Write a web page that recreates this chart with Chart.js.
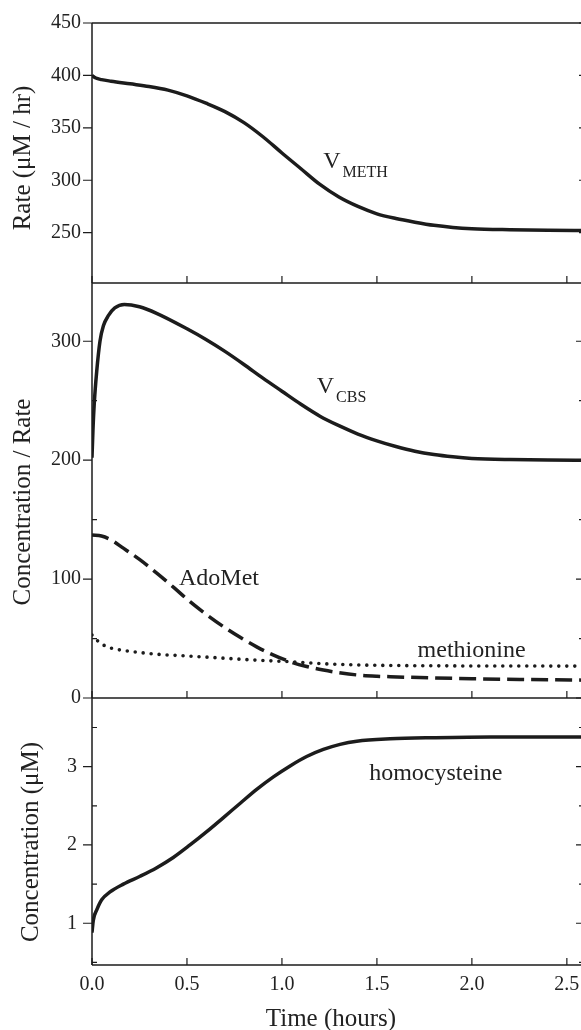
<!DOCTYPE html>
<html>
<head>
<meta charset="utf-8">
<script src="https://cdn.jsdelivr.net/npm/chart.js@4/dist/chart.umd.min.js"></script>
<style>
  html, body { margin: 0; padding: 0; background: #fff; overflow: hidden; }
  #wrap { position: relative; width: 581px; height: 1030px; overflow: hidden; }
  #wrap canvas { position: absolute; left: 0; top: 0; }
</style>
</head>
<body>
<div id="wrap">
  <canvas id="top" width="600" height="1040"></canvas>
  <canvas id="mid" width="600" height="1040"></canvas>
  <canvas id="bot" width="600" height="1040"></canvas>
</div>
<script>
// time axis (hours)
const xTicks = [0, 0.5, 1, 1.5, 2, 2.5];
const xMax = 2.585;

// top panel: V_METH (uM/hr)
const methTicks = [250, 300, 350, 400, 450];
const tMeth = [0, 0.02, 0.05, 0.1, 0.2, 0.3, 0.4, 0.5, 0.6, 0.7, 0.8, 0.9, 1.0, 1.1, 1.2, 1.3, 1.4, 1.5, 1.6, 1.7, 1.8, 1.9, 2.0, 2.2, 2.4, 2.6];
const vMeth = [400, 397.5, 396, 394.5, 392, 389.5, 386, 380.5, 373.5, 365.5, 355, 341.5, 326, 311, 296, 284, 275, 268, 263.5, 260, 257, 255, 253.8, 252.8, 252.2, 252];

// middle panel: V_CBS, AdoMet, methionine
const midTicks = [0, 100, 200, 300];
const midMinor = [50, 150, 250];
const tCbs = [0, 0.005, 0.012, 0.025, 0.042, 0.06, 0.086, 0.12, 0.17, 0.25, 0.34, 0.5, 0.6, 0.7, 0.8, 0.9, 1.0, 1.1, 1.2, 1.3, 1.4, 1.5, 1.6, 1.7, 1.8, 1.9, 2.0, 2.2, 2.4, 2.6];
const vCbs = [202, 225, 248, 275, 300, 313, 321.5, 328, 331, 329, 323.5, 310.5, 301.5, 291.5, 280.5, 269, 258, 247, 237, 229, 222, 216.3, 211.5, 207.5, 204.7, 202.8, 201.5, 200.5, 200.1, 200];
const tAdo = [0, 0.05, 0.1, 0.165, 0.25, 0.341, 0.43, 0.516, 0.6, 0.692, 0.78, 0.867, 0.95, 1.043, 1.13, 1.218, 1.3, 1.394, 1.5, 1.57, 1.8, 2.0, 2.3, 2.6];
const adoMet = [137, 136.2, 133, 126, 116.5, 105, 93, 81, 70.5, 60, 51, 43, 36.5, 30.5, 26.5, 23.5, 21.3, 19.4, 18.3, 17.9, 16.9, 16.2, 15.5, 15];
const tMet = [0, 0.02, 0.05, 0.1, 0.165, 0.25, 0.341, 0.516, 0.692, 0.867, 1.043, 1.218, 1.394, 1.6, 1.9, 2.2, 2.6];
const methionine = [53, 49.5, 45.5, 42, 40, 38.3, 36.8, 35.2, 33.5, 31.8, 30.5, 28.8, 27.8, 27.3, 27, 26.9, 26.8];

// bottom panel: homocysteine (uM)
const hcyTicks = [1, 2, 3];
const hcyMinor = [0.5, 1.5, 2.5, 3.5];
const tHcy = [0, 0.007, 0.025, 0.051, 0.095, 0.165, 0.253, 0.341, 0.428, 0.516, 0.604, 0.692, 0.779, 0.867, 0.955, 1.043, 1.13, 1.218, 1.306, 1.394, 1.57, 1.8, 2.1, 2.6];
const homocysteine = [0.88, 1.04, 1.17, 1.3, 1.4, 1.5, 1.6, 1.71, 1.84, 2.0, 2.17, 2.35, 2.53, 2.71, 2.87, 3.01, 3.13, 3.22, 3.285, 3.325, 3.355, 3.37, 3.38, 3.38];

const INK = '#1c1c1c';
const TXT = '#222';
const SERIF = '"Liberation Serif", "DejaVu Serif", serif';

function pts(ts, vs) {
  return ts.map((t, i) => ({ x: t, y: vs[i] }));
}

function line(data, extra) {
  return Object.assign({
    data: data,
    borderColor: INK,
    borderWidth: 3.5,
    pointRadius: 0,
    fill: false,
    cubicInterpolationMode: 'monotone'
  }, extra || {});
}

// box, inward x ticks on the bottom edge, y ticks on both sides
const frame = {
  id: 'frame',
  beforeDatasetsDraw(chart, args, o) {
    const { ctx, chartArea: a, scales: { x, y } } = chart;
    ctx.save();
    ctx.strokeStyle = INK;
    ctx.lineWidth = 1.5;
    ctx.beginPath();
    if (o.top) { ctx.moveTo(a.left, a.top); ctx.lineTo(a.right, a.top); }
    ctx.moveTo(a.left, a.top); ctx.lineTo(a.left, a.bottom);
    ctx.moveTo(a.left, a.bottom); ctx.lineTo(a.right, a.bottom);
    ctx.moveTo(a.right, a.top); ctx.lineTo(a.right, a.bottom);
    ctx.stroke();

    ctx.lineWidth = 1.2;
    ctx.beginPath();
    xTicks.forEach(v => {
      const px = x.getPixelForValue(v);
      ctx.moveTo(px, a.bottom); ctx.lineTo(px, a.bottom - 7);
    });
    (o.major || []).forEach(v => {
      const py = y.getPixelForValue(v);
      ctx.moveTo(a.left - 9, py); ctx.lineTo(a.left, py);
      ctx.moveTo(a.right, py); ctx.lineTo(a.right - (o.rightLen || 7), py);
    });
    (o.minor || []).forEach(v => {
      const py = y.getPixelForValue(v);
      ctx.moveTo(a.left, py); ctx.lineTo(a.left + 5, py);
      ctx.moveTo(a.right, py); ctx.lineTo(a.right - 4, py);
    });
    ctx.stroke();
    ctx.restore();
  }
};

// curve labels (placed in data units) and axis titles
const notes = {
  id: 'notes',
  afterDatasetsDraw(chart, args, o) {
    const { ctx, scales: { x, y } } = chart;
    ctx.save();
    ctx.fillStyle = TXT;
    ctx.textBaseline = 'alphabetic';
    ctx.textAlign = 'left';
    (o.labels || []).forEach(n => {
      const px = x.getPixelForValue(n.x);
      const py = y.getPixelForValue(n.y);
      ctx.font = '24px ' + SERIF;
      ctx.fillText(n.text, px, py);
      if (n.sub) {
        const w = ctx.measureText(n.text).width;
        ctx.font = '16px ' + SERIF;
        ctx.fillText(n.sub, px + w + 2, py + 9);
      }
    });
    ctx.font = '25px ' + SERIF;
    ctx.textAlign = 'center';
    ctx.textBaseline = 'middle';
    (o.titles || []).forEach(t => {
      ctx.save();
      ctx.translate(t.cx, t.cy);
      if (t.vertical) ctx.rotate(-Math.PI / 2);
      ctx.fillText(t.text, 0, 0);
      ctx.restore();
    });
    ctx.restore();
  }
};

function yScale(min, max, ticks, pad) {
  return {
    type: 'linear',
    min: min,
    max: max,
    grid: { display: false, drawTicks: false },
    border: { display: false },
    afterBuildTicks: s => { s.ticks = ticks.map(v => ({ value: v })); },
    afterFit: s => { s.width = 92; },
    ticks: { autoSkip: false, padding: pad, color: TXT, font: { family: SERIF, size: 20 } }
  };
}

function xScale(show) {
  const s = {
    type: 'linear',
    display: show,
    min: 0,
    max: xMax,
    grid: { display: false, drawTicks: false },
    border: { display: false },
    afterBuildTicks: s => { s.ticks = xTicks.map(v => ({ value: v })); },
    ticks: {
      autoSkip: false, maxRotation: 0, padding: 8, color: TXT,
      font: { family: SERIF, size: 20 },
      callback: v => Number(v).toFixed(1)
    }
  };
  if (show) s.afterFit = sc => { sc.height = 75; };
  return s;
}

function panel(id, datasets, padding, x, y, frameOpts, noteOpts) {
  return new Chart(document.getElementById(id), {
    type: 'line',
    data: { datasets: datasets },
    options: {
      responsive: false,
      animation: false,
      layout: { padding: padding },
      scales: { x: x, y: y },
      plugins: {
        legend: { display: false },
        tooltip: { enabled: false },
        frame: frameOpts,
        notes: noteOpts
      }
    },
    plugins: [frame, notes]
  });
}

panel('top',
  [line(pts(tMeth, vMeth))],
  { top: 19, right: 17, bottom: 757, left: 0 },
  xScale(false),
  yScale(202, 450, methTicks, 11),
  { top: true, major: methTicks, rightLen: 4 },
  {
    labels: [{ text: 'V', sub: 'METH', x: 1.217, y: 312 }],
    titles: [{ text: 'Rate (\u03bcM / hr)', cx: 23, cy: 158, vertical: true }]
  }
);

panel('mid',
  [
    line(pts(tCbs, vCbs)),
    line(pts(tAdo, adoMet), { borderDash: [17, 7] }),
    line(pts(tMet, methionine), { borderWidth: 3.6, borderDash: [0, 8], borderCapStyle: 'round' })
  ],
  { top: 283, right: 17, bottom: 342, left: 0 },
  xScale(false),
  yScale(0, 349, midTicks, 11),
  { top: false, major: midTicks, minor: midMinor },
  {
    labels: [
      { text: 'V', sub: 'CBS', x: 1.183, y: 256.6 },
      { text: 'AdoMet', x: 0.458, y: 95 },
      { text: 'methionine', x: 1.714, y: 34.7 }
    ],
    titles: [{ text: 'Concentration / Rate', cx: 23, cy: 502, vertical: true }]
  }
);

panel('bot',
  [line(pts(tHcy, homocysteine))],
  { top: 698, right: 17, bottom: 0, left: 0 },
  xScale(true),
  yScale(0.467, 3.877, hcyTicks, 15),
  { top: false, major: hcyTicks, minor: hcyMinor },
  {
    labels: [{ text: 'homocysteine', x: 1.459, y: 2.83 }],
    titles: [
      { text: 'Concentration (\u03bcM)', cx: 31, cy: 842, vertical: true },
      { text: 'Time (hours)', cx: 331, cy: 1019, vertical: false }
    ]
  }
);
</script>
</body>
</html>
